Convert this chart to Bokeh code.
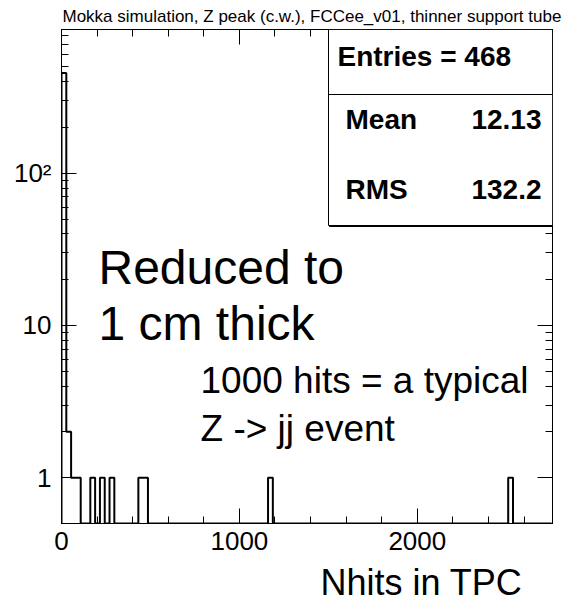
import numpy as np
from bokeh.plotting import figure
from bokeh.models import FixedTicker, LinearAxis, LogAxis, Label, BoxAnnotation, Title
from bokeh.embed import file_html
from bokeh.resources import INLINE

# ---------------- data ----------------
bin_width = 27
n_bins = 102
filled_bins = [0, 1, 2, 3, 6, 8, 10, 16, 17, 43, 93]
filled_counts = [456, 2, 1, 1, 1, 1, 1, 1, 1, 1, 1]

x_major = [0, 1000, 2000]
x_minor = [200, 400, 600, 800, 1200, 1400, 1600, 1800, 2200, 2400, 2600]
y_major = [1, 10, 100]
y_major_labels = ["1", "10", "10\u00b2"]
y_minor = [2, 3, 4, 5, 6, 7, 8, 9, 20, 30, 40, 50, 60, 70, 80, 90,
           200, 300, 400, 500, 600, 700, 800]

title_text = "Mokka simulation, Z peak (c.w.), FCCee_v01, thinner support tube"
stats_entries = 468
stats_mean = "12.13"
stats_rms = "132.2"
note_big = ["Reduced to", "1 cm thick"]
note_small = ["1000 hits = a typical", "Z -> jj event"]
x_title = "Nhits in TPC"

X_MIN, X_MAX = 0, 2760
Y_MIN, Y_MAX = 0.5, 880

# ---------------- figure ----------------
W, H = 564, 609
L, R, T, B = 61, 552, 29, 523  # frame edges in canvas px
FONT = "Liberation Sans"

p = figure(width=W, height=H, x_range=(X_MIN, X_MAX), y_range=(Y_MIN, Y_MAX),
           y_axis_type="log", output_backend="svg", toolbar_location=None,
           min_border_left=L, min_border_right=W - R, min_border_top=T,
           min_border_bottom=H - B)
p.xgrid.visible = False
p.ygrid.visible = False
p.outline_line_color = "black"
p.outline_line_width = 1
p.background_fill_color = "white"
p.border_fill_color = "white"

p.title.text = title_text
p.title.text_font = FONT
p.title.text_font_size = "17px"
p.title.text_font_style = "normal"
p.title.text_color = "black"
p.title.align = "left"
p.title.offset = 1
p.title.standoff = 8

MAJ, MIN = 15, 7

def style_axis(ax):
    ax.axis_line_color = "black"
    ax.axis_line_width = 1
    ax.major_tick_line_color = "black"
    ax.minor_tick_line_color = "black"
    ax.major_tick_out = 0
    ax.minor_tick_out = 0
    ax.major_tick_in = MAJ
    ax.minor_tick_in = MIN
    ax.major_label_text_font = FONT
    ax.major_label_text_color = "black"
    ax.major_label_text_font_size = "26px"

p.xaxis.ticker = FixedTicker(ticks=x_major, minor_ticks=x_minor)
p.yaxis.ticker = FixedTicker(ticks=y_major, minor_ticks=y_minor)
style_axis(p.xaxis[0])
style_axis(p.yaxis[0])
p.xaxis.major_label_standoff = 8
p.yaxis.major_label_standoff = 10
p.yaxis.major_label_overrides = {v: s for v, s in zip(y_major, y_major_labels)}

# mirrored ticks (top and right) - label-free axes using only minor ticks
def mirror(axis_cls, side, positions, length):
    ax = axis_cls(ticker=FixedTicker(ticks=[], minor_ticks=positions))
    ax.axis_line_color = "black"
    ax.major_tick_line_color = None
    ax.minor_tick_line_color = "black"
    ax.minor_tick_in = length
    ax.minor_tick_out = 0
    ax.major_tick_in = 0
    ax.major_tick_out = 0
    ax.major_label_standoff = 0
    p.add_layout(ax, side)

mirror(LinearAxis, "above", x_minor, MIN)
mirror(LinearAxis, "above", x_major, MAJ)
mirror(LogAxis, "right", y_minor, MIN)
mirror(LogAxis, "right", y_major, MAJ)

# x-axis title, right-aligned below the axis
p.add_layout(Title(text=x_title, align="right", offset=30, standoff=14,
                   text_line_height=0.8,
                   text_font=FONT, text_font_size="36px", text_font_style="normal",
                   text_color="black"), "below")

# ---------------- histogram ----------------
counts = np.zeros(n_bins)
for b, c in zip(filled_bins, filled_counts):
    counts[b] = c
edges = np.arange(n_bins + 1) * bin_width
yv = np.where(counts > 0, counts, Y_MIN)
xs = [edges[0]]
ys = [Y_MIN]
for i in range(n_bins):
    xs += [edges[i], edges[i + 1]]
    ys += [yv[i], yv[i]]
xs.append(edges[-1])
ys.append(Y_MIN)
p.line(xs, ys, line_color="black", line_width=2)

# ---------------- annotations (canvas px -> frame screen units) ----------------
def sx(X):
    return X - L

def sy(Y):
    return B - Y

def lab(text, X, Yc, size, bold=False, align="left"):
    p.add_layout(Label(x=sx(X), y=sy(Yc), x_units="screen", y_units="screen",
                       text=text, text_font=FONT, text_font_size=f"{size}px",
                       text_font_style="bold" if bold else "normal",
                       text_color="black", text_align=align,
                       text_baseline="middle"))

def box(X0, X1, Y0, Y1, fill, fill_alpha):
    p.add_layout(BoxAnnotation(left=sx(X0), right=sx(X1), top=sy(Y0), bottom=sy(Y1),
                               left_units="screen", right_units="screen",
                               top_units="screen", bottom_units="screen",
                               fill_color=fill, fill_alpha=fill_alpha,
                               line_color="black", line_width=1, line_alpha=1))

# stats box
BX0, BX1, BY0, BY1, BDIV = 328, 552, 29, 225, 94
box(BX0 + 1, BX1 + 1, BY0 + 1, BY1 + 1, "black", 1)
box(BX0, BX1, BY0, BY1, "white", 1)
box(BX0, BX1, BY0, BDIV, "white", 0)

lab(f"Entries = {stats_entries}", 337, 56, 28, bold=True)
lab("Mean", 345, 119, 28, bold=True)
lab(stats_mean, 541, 119, 28, bold=True, align="right")
lab("RMS", 345, 189, 28, bold=True)
lab(stats_rms, 541, 189, 28, bold=True, align="right")

lab(note_big[0], 98, 267, 48)
lab(note_big[1], 98, 323, 48)
lab(note_small[0], 200, 380, 37)
lab(note_small[1], 200, 428, 37)

open("out.html", "w").write(file_html(p, INLINE))
